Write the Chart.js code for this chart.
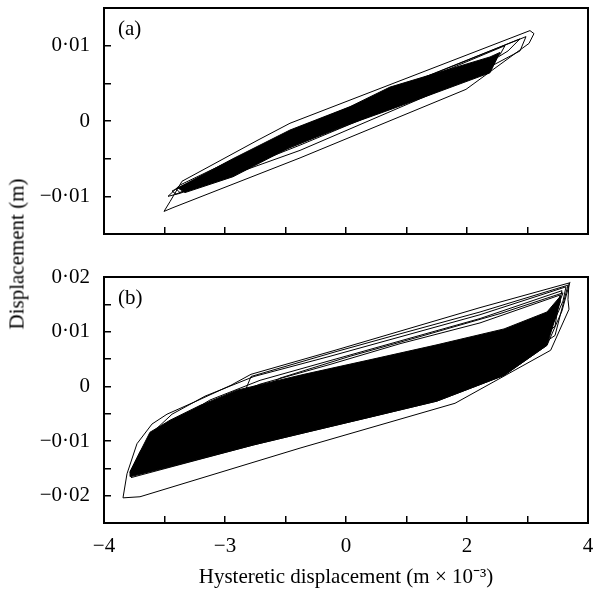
<!DOCTYPE html>
<html>
<head>
<meta charset="utf-8">
<script src="https://cdn.jsdelivr.net/npm/chart.js@4.4.0/dist/chart.umd.min.js"></script>
<style>
  body { margin: 0; background: #fff; }
  #wrap { position: relative; width: 593px; height: 590px; }
  canvas { position: absolute; left: 0; }
  #ytitle {
    position: absolute; left: 17px; top: 254px;
    transform: translate(-50%, -50%) rotate(-90deg);
    font: 21px "Liberation Serif", serif; white-space: nowrap; color: #000;
  }
</style>
</head>
<body>
<div id="wrap">
  <canvas id="chartA" width="593" height="250" style="top:0"></canvas>
  <canvas id="chartB" width="593" height="340" style="top:250px"></canvas>
  <div id="ytitle">Displacement (m)</div>
</div>
<script>
// tick labels (the picture prints "−3" under the -2 tick)
const xTickVals = [-4, -2, 0, 2, 4];
const xTickText = ['−4', '−3', '0', '2', '4'];
const yTickValsA = [-0.01, 0, 0.01];
const yTickTextA = ['−0·01', '0', '0·01'];
const yTickValsB = [-0.02, -0.01, 0, 0.01, 0.02];
const yTickTextB = ['−0·02', '−0·01', '0', '0·01', '0·02'];

// panel (a) - loops
const a1x = [-3.008, -2.909, -2.711, -1.471, -0.926, 3.041, 3.107, 3.025, 2.529, 1.983, -0.760, -2.860, -3.008];
const a1y = [-0.0120, -0.0107, -0.0080, -0.0026, -0.0003, 0.0120, 0.0116, 0.0103, 0.0074, 0.0042, -0.0049, -0.0115, -0.0120];
const a2x = [-2.942, -2.744, -1.421, -0.760, 2.975, 2.876, 2.050, -0.760, -2.744, -2.942];
const a2y = [-0.0100, -0.0085, -0.0034, -0.0009, 0.0112, 0.0093, 0.0058, -0.0039, -0.0096, -0.0100];
const a3x = [-2.876, -0.760, 2.876, 2.678, 2.050, -0.760, -2.810, -2.876];
const a3y = [-0.0093, -0.0008, 0.0109, 0.0093, 0.0062, -0.0032, -0.0097, -0.0093];
const a4x = [-2.810, -0.760, 2.628, 2.545, 2.050, -0.760, -2.744, -2.810];
const a4y = [-0.0090, -0.0014, 0.0100, 0.0088, 0.0066, -0.0030, -0.0095, -0.0090];
// panel (a) - dense black core
const coreAx = [-2.777, -1.868, -0.926, 0.066, 0.727, 2.380, 2.545, 2.380, 0.727, 0.066, -0.926, -1.868, -2.661, -2.777];
const coreAy = [-0.0089, -0.0050, -0.0012, 0.0019, 0.0045, 0.0085, 0.0091, 0.0064, 0.0015, -0.0004, -0.0035, -0.0074, -0.0095, -0.0089];

// panel (b) - loops
const b1x = [-3.620, -3.686, -3.405, -0.760, 1.802, 3.383, 3.686, 3.669, 3.686, 2.215, -0.149, -1.570, -1.901, -2.512, -2.959, -3.207, -3.455, -3.620];
const b1y = [-0.0160, -0.0204, -0.0202, -0.0113, -0.0031, 0.0066, 0.0141, 0.0159, 0.0189, 0.0144, 0.0067, 0.0022, 0.0002, -0.0029, -0.0051, -0.0069, -0.0105, -0.0160];
const b2x = [3.636, 2.215, -0.264, -1.521, -2.331, -2.876, -3.157, -3.405, -3.570, -3.405, -1.521, 1.388, 2.545, 3.372, 3.587, 3.636];
const b2y = [0.0182, 0.0131, 0.0055, 0.0018, -0.0018, -0.0051, -0.0080, -0.0120, -0.0158, -0.0160, -0.0100, -0.0011, 0.0044, 0.0102, 0.0156, 0.0182];
const b3x = [3.570, 2.215, -0.264, -1.421, -2.248, -2.744, -3.074, -3.521, -3.240, -1.421, 1.388, 2.711, 3.455, 3.570];
const b3y = [0.0175, 0.0124, 0.0047, 0.0011, -0.0025, -0.0058, -0.0098, -0.0155, -0.0149, -0.0093, -0.0004, 0.0062, 0.0124, 0.0175];
const b4x = [-3.554, -1.521, 1.504, 2.612, 3.322, 3.570, 3.702];
const b4y = [-0.0167, -0.0107, -0.0027, 0.0020, 0.0075, 0.0138, 0.0191];
const b5x = [3.537, 2.215, 0.893, -0.264, -1.421, -2.165, -2.661, -3.025, -3.488, -3.074, -1.421, 1.504, 2.612, 3.455, 3.537];
const b5y = [0.0167, 0.0116, 0.0078, 0.0040, 0.0004, -0.0029, -0.0058, -0.0098, -0.0156, -0.0144, -0.0098, -0.0022, 0.0030, 0.0110, 0.0167];
const b6x = [3.669, 2.215, 0.893, -0.149, -1.570, -1.802, -0.760, 2.545, 3.455, 3.669];
const b6y = [0.0185, 0.0136, 0.0096, 0.0064, 0.0018, -0.0045, -0.0080, 0.0025, 0.0093, 0.0185];
const b7x = [3.587, 2.545, 1.223, 0.066, -1.091, -1.917, -0.760, 2.215, 3.289, 3.587];
const b7y = [0.0171, 0.0133, 0.0091, 0.0055, 0.0015, -0.0045, -0.0076, 0.0011, 0.0084, 0.0171];
// panel (b) - dense black core
const coreBx = [-3.570, -3.240, -2.909, -2.413, -1.802, -0.694, 0.413, 1.504, 2.612, 3.322, 3.537, 3.537, 3.322, 2.612, 1.504, 0.413, -0.694, -1.521, -2.909, -3.554, -3.570];
const coreBy = [-0.0156, -0.0084, -0.0062, -0.0035, -0.0007, 0.0022, 0.0049, 0.0076, 0.0105, 0.0136, 0.0164, 0.0153, 0.0075, 0.0020, -0.0027, -0.0056, -0.0085, -0.0107, -0.0147, -0.0165, -0.0156];

const serif = '"Liberation Serif", serif';

function pts(xs, ys) {
    return xs.map(function (x, i) { return { x: x, y: ys[i] }; });
}

function loop(xs, ys) {
    return { data: pts(xs, ys), showLine: true, borderColor: '#000', borderWidth: 1, pointRadius: 0, fill: false };
}

function core(xs, ys) {
    return { data: pts(xs, ys), showLine: true, borderColor: '#000', borderWidth: 1, pointRadius: 0, fill: 'shape', backgroundColor: '#000' };
}

function tickText(vals, text) {
    return function (value) {
        for (let i = 0; i < vals.length; i++) {
            if (Math.abs(vals[i] - value) < 1e-9) return text[i];
        }
        return '';
    };
}

// frame round the plot area and the (a)/(b) tag
const frame = {
    id: 'frame',
    afterDraw(chart, args, opts) {
        const { ctx, chartArea } = chart;
        ctx.save();
        ctx.strokeStyle = '#000';
        ctx.lineWidth = 2;
        ctx.strokeRect(chartArea.left, chartArea.top, chartArea.right - chartArea.left, chartArea.bottom - chartArea.top);
        ctx.fillStyle = '#000';
        ctx.font = '21px ' + serif;
        ctx.textBaseline = 'middle';
        ctx.fillText(opts.text, chartArea.left + 14, chartArea.top + 21);
        ctx.restore();
    }
};

function makePanel(id, datasets, yMin, yMax, yVals, yText, tag, padTop, xHeight, withX) {
    new Chart(document.getElementById(id), {
        type: 'scatter',
        data: { datasets: datasets },
        plugins: [frame],
        options: {
            responsive: false,
            animation: false,
            layout: { padding: { top: padTop, right: 5, left: 0, bottom: 0 } },
            plugins: { legend: { display: false }, tooltip: { enabled: false }, frame: { text: tag } },
            scales: {
                x: {
                    type: 'linear', min: -4, max: 4,
                    grid: { drawOnChartArea: false, drawTicks: true, tickLength: -7, color: '#000', lineWidth: 1.5 },
                    border: { display: false },
                    ticks: {
                        stepSize: 1, autoSkip: false, maxRotation: 0, padding: 18, color: '#000',
                        font: { family: serif, size: 21 },
                        callback: withX ? tickText(xTickVals, xTickText) : function () { return ''; }
                    },
                    title: {
                        display: withX, text: 'Hysteretic displacement (m × 10⁻³)', color: '#000',
                        font: { family: serif, size: 21 }, padding: { top: 0, bottom: 0 }
                    },
                    afterFit: function (s) {
                        s.height = xHeight;
                        s.paddingLeft = 0; s.paddingRight = 0;
                    }
                },
                y: {
                    type: 'linear', min: yMin, max: yMax,
                    grid: { drawOnChartArea: false, drawTicks: true, tickLength: -7, color: '#000', lineWidth: 1.5 },
                    border: { display: false },
                    ticks: {
                        stepSize: 0.005, autoSkip: false, padding: 21, color: '#000',
                        font: { family: serif, size: 21 },
                        callback: tickText(yVals, yText)
                    },
                    afterFit: function (s) {
                        s.width = 104;
                        s.paddingTop = 0; s.paddingBottom = 0;
                    }
                }
            }
        }
    });
}

makePanel('chartA',
    [core(coreAx, coreAy), loop(a1x, a1y), loop(a2x, a2y), loop(a3x, a3y), loop(a4x, a4y)],
    -0.015, 0.015, yTickValsA, yTickTextA, '(a)', 8, 16, false);

makePanel('chartB',
    [core(coreBx, coreBy), loop(b1x, b1y), loop(b2x, b2y), loop(b3x, b3y), loop(b4x, b4y), loop(b5x, b5y), loop(b6x, b6y), loop(b7x, b7y)],
    -0.025, 0.02, yTickValsB, yTickTextB, '(b)', 27, 67, true);
</script>
</body>
</html>
